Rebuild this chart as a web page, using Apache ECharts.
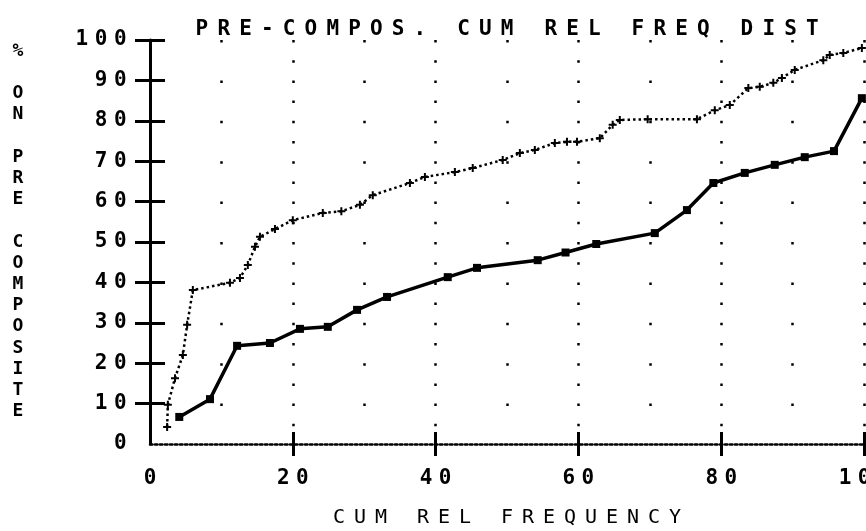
<!DOCTYPE html>
<html>
<head>
<meta charset="utf-8">
<script src="https://cdn.jsdelivr.net/npm/echarts@6/dist/echarts.min.js"></script>
<style>
  html, body { margin: 0; padding: 0; background: #fff; }
  #chart { width: 866px; height: 531px; }
</style>
</head>
<body>
<div id="chart"></div>
<script>
// composite curve (solid, square markers)
var compX = [4.1, 8.4, 12.2, 16.8, 21.0, 24.9, 29.0, 33.2, 41.7, 45.8, 54.3, 58.2, 62.5, 70.7, 75.2, 78.9, 83.3, 87.5, 91.7, 95.8, 99.7];
var compY = [6.7, 11.1, 24.3, 25.0, 28.5, 29.0, 33.2, 36.4, 41.3, 43.6, 45.5, 47.4, 49.5, 52.2, 57.9, 64.6, 67.1, 69.1, 71.0, 72.5, 85.6];

// pre-composite curve (dotted, plus markers)
var preX = [2.4, 2.5, 3.5, 4.6, 5.2, 6.0, 11.2, 12.6, 13.7, 14.7, 15.4, 17.5, 20.0, 24.2, 26.8, 29.4, 31.2, 36.4, 38.5, 42.7,
            45.2, 49.4, 51.8, 53.9, 56.7, 58.4, 59.8, 63.0, 64.8, 65.8, 69.7, 76.6, 79.1, 81.2, 83.8, 85.4, 87.3, 88.5, 90.3,
            94.3, 95.2, 97.1, 99.7];
var preY = [4.2, 9.7, 16.3, 22.0, 29.5, 38.1, 39.9, 41.1, 44.3, 48.8, 51.3, 53.2, 55.4, 57.2, 57.6, 59.2, 61.6, 64.6, 66.1, 67.3,
            68.3, 70.3, 72.0, 72.8, 74.5, 74.8, 74.8, 75.7, 79.0, 80.2, 80.4, 80.4, 82.6, 83.9, 88.1, 88.4, 89.4, 90.6, 92.6,
            95.0, 96.3, 96.8, 98.0];

var xTicks = [20, 40, 60, 80, 100];
var yTicks = [10, 20, 30, 40, 50, 60, 70, 80, 90, 100];

var titleText = 'PRE-COMPOS. CUM REL FREQ DIST';
var xName = 'CUM REL FREQUENCY';
var yName = '% ON PRE COMPOSITE';

var FONT = 'DejaVu Sans Mono';

// plotter lettering is widely spaced: put every char in a fixed width box
function spread(s, key) {
  return s.split('').map(function (c) {
    return '{' + key + '|' + (c === ' ' ? '\u00a0' : c) + '}';
  }).join('');
}
function pairs(xs, ys) {
  var out = [];
  for (var i = 0; i < xs.length; i++) out.push([xs[i], ys[i]]);
  return out;
}

var chart = echarts.init(document.getElementById('chart'), null, { renderer: 'canvas' });

var plusPath = 'path://M3,0h2v3h3v2h-3v3h-2v-3h-3v-2h3z';

var option = {
  animation: false,
  backgroundColor: '#fff',
  title: {
    text: spread(titleText, 't'),
    left: 186,
    top: 13,
    textStyle: {
      rich: {
        t: { width: 21.8, align: 'center', fontFamily: FONT, fontWeight: 'bold', fontSize: 21, color: '#000', lineHeight: 24 }
      }
    }
  },
  grid: { left: 150, right: 2, top: 40, bottom: 87, outerBoundsMode: 'none', containLabel: false },
  xAxis: [{
    type: 'value',
    min: 0, max: 100, interval: 20,
    position: 'bottom',
    name: spread(xName, 'n'),
    nameLocation: 'middle',
    nameGap: 64,
    nameTextStyle: {
      rich: {
        n: { width: 21, align: 'center', fontFamily: FONT, fontSize: 20, color: '#000' }
      }
    },
    axisLine: { show: true, lineStyle: { color: '#000', width: 2.5, type: [2.5, 2.5] } },
    axisTick: { show: true, inside: false, length: 12, customValues: xTicks, lineStyle: { color: '#000', width: 3 } },
    axisLabel: {
      margin: 24,
      formatter: function (v) { return spread(String(v), 'd'); },
      rich: { d: { width: 19, align: 'center', fontFamily: FONT, fontWeight: 'bold', fontSize: 21, color: '#000' } }
    },
    splitLine: { show: true, lineStyle: { color: '#000', width: 2.5, type: [2.5, 17.7] } },
    minorTick: { show: false, splitNumber: 2 },
    minorSplitLine: { show: true, lineStyle: { color: '#000', width: 2.5, type: [2.5, 37.9] } }
  }, {
    type: 'value',
    min: 0, max: 100, interval: 20,
    position: 'bottom',
    axisLine: { show: false },
    axisTick: { show: true, inside: true, length: 12, customValues: xTicks, lineStyle: { color: '#000', width: 3 } },
    axisLabel: { show: false },
    splitLine: { show: false }
  }],
  yAxis: [{
    type: 'value',
    min: 0, max: 100, interval: 10,
    position: 'left',
    // stacked upright letters; trailing blank line lifts the block
    name: yName.split('').join('\n') + '\n\u00a0',
    nameLocation: 'middle',
    nameGap: 132,
    nameRotate: 0,
    nameTextStyle: {
      fontFamily: FONT, fontWeight: 'bold', fontSize: 18, color: '#000',
      lineHeight: 21.2, align: 'center', verticalAlign: 'middle',
      padding: [0, 0, 50, 0]
    },
    axisLine: { show: true, lineStyle: { color: '#000', width: 3 } },
    axisTick: { show: true, inside: false, length: 15, customValues: yTicks, lineStyle: { color: '#000', width: 3 } },
    axisLabel: {
      margin: 20,
      formatter: function (v) { return spread(String(v), 'd'); },
      rich: { d: { width: 19.3, align: 'center', fontFamily: FONT, fontWeight: 'bold', fontSize: 21, color: '#000' } }
    },
    splitLine: { show: false }
  }, {
    type: 'value',
    min: 0, max: 100, interval: 10,
    position: 'left',
    axisLine: { show: false },
    axisTick: { show: true, inside: true, length: 15, customValues: yTicks, lineStyle: { color: '#000', width: 3 } },
    axisLabel: { show: false },
    splitLine: { show: false }
  }],
  series: [{
    name: 'pre',
    type: 'line',
    data: pairs(preX, preY),
    symbol: plusPath,
    symbolSize: 8,
    showAllSymbol: true,
    itemStyle: { color: '#000' },
    lineStyle: { color: '#000', width: 2.5, type: [2.5, 3] },
    z: 3
  }, {
    name: 'comp',
    type: 'line',
    data: pairs(compX, compY),
    symbol: 'rect',
    symbolSize: 8,
    showAllSymbol: true,
    itemStyle: { color: '#000' },
    lineStyle: { color: '#000', width: 3.5 },
    z: 4
  }]
};

chart.setOption(option);
</script>
</body>
</html>
